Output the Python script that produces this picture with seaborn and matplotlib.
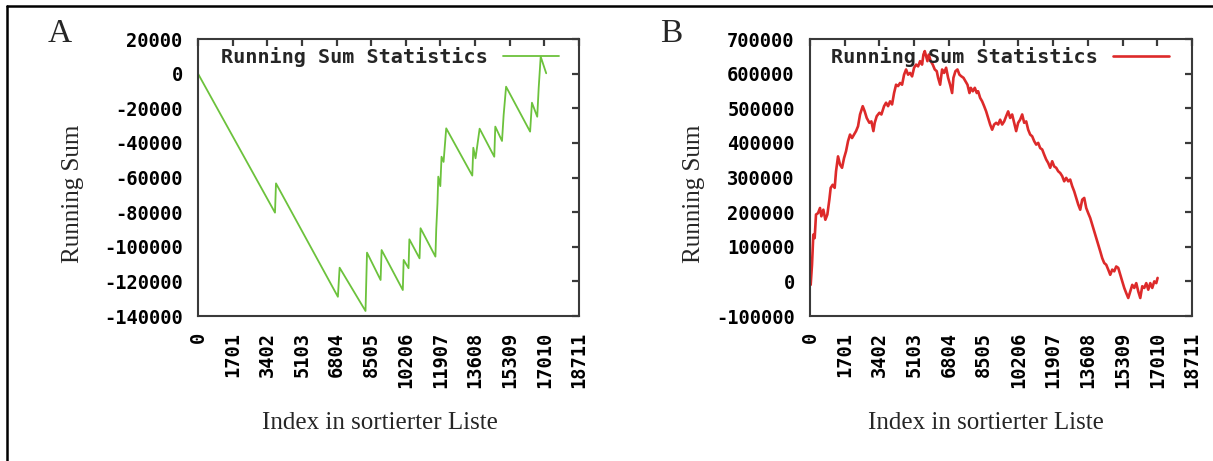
import matplotlib
matplotlib.use("Agg")
import matplotlib.pyplot as plt
import seaborn as sns
from matplotlib.lines import Line2D

# ---------------- data ----------------
x_ticks = [0, 1701, 3402, 5103, 6804, 8505, 10206, 11907, 13608, 15309, 17010, 18711]
ya_ticks = [-140000, -120000, -100000, -80000, -60000, -40000, -20000, 0, 20000]
yb_ticks = [-100000, 0, 100000, 200000, 300000, 400000, 500000, 600000, 700000]

series_label = "Running Sum Statistics"

# Panel A: running sum (sawtooth)
xa = [0, 3781, 3830, 6870, 6955, 8226, 8300, 8967, 9017, 10058, 10100, 10340, 10380,
      10880, 10930, 11660, 11700, 11760, 11800, 11900, 11960, 12060, 12190, 13470,
      13520, 13630, 13830, 14550, 14600, 14930, 15010, 15130, 16310, 16400, 16660,
      16730, 16830, 17100]
ya = [0, -80300, -63400, -128900, -112100, -137100, -103400, -119200, -101900, -125000,
      -107600, -112400, -95700, -106700, -89300, -105700, -89900, -75000, -59500, -65000,
      -48000, -51000, -31600, -58900, -42800, -48900, -31800, -48000, -30600, -38900,
      -23900, -7550, -33500, -16800, -24900, -8500, 9800, 200]

# Panel B: running sum (noisy)
xb = [0, 33, 98, 163, 229, 294, 392, 490, 556, 654, 752, 850, 948, 1013, 1111, 1209,
      1275, 1373, 1471, 1569, 1667, 1765, 1863, 1961, 2059, 2157, 2255, 2353, 2451,
      2582, 2680, 2778, 2908, 3007, 3105, 3170, 3268, 3399, 3497, 3628, 3726, 3824,
      3922, 4020, 4118, 4216, 4314, 4412, 4510, 4608, 4706, 4804, 4902, 5000, 5098,
      5196, 5294, 5392, 5490, 5556, 5621, 5686, 5752, 5817, 5915, 6013, 6111, 6209,
      6275, 6373, 6471, 6569, 6667, 6765, 6863, 6961, 7026, 7124, 7222, 7320, 7418,
      7517, 7615, 7713, 7811, 7876, 7974, 8072, 8170, 8236, 8334, 8432, 8530, 8628,
      8726, 8824, 8922, 9020, 9118, 9216, 9314, 9412, 9510, 9608, 9706, 9804, 9902,
      10000, 10098, 10196, 10294, 10393, 10491, 10589, 10687, 10785, 10883, 10981,
      11079, 11177, 11275, 11373, 11471, 11569, 11667, 11765, 11863, 11961, 12059,
      12157, 12255, 12353, 12451, 12549, 12647, 12745, 12843, 12941, 13040, 13138,
      13236, 13334, 13432, 13530, 13628, 13726, 13824, 13922, 14020, 14118, 14216,
      14314, 14412, 14510, 14608, 14706, 14804, 14902, 15000, 15098, 15197, 15295,
      15393, 15491, 15589, 15687, 15785, 15883, 15981, 16079, 16177, 16275, 16373,
      16471, 16569, 16667, 16765, 16863, 16961, 17026]
yb = [48000, -10000, 48000, 135000, 125000, 193000, 197000, 212000, 188000, 207000,
      178000, 193000, 236000, 270000, 279000, 270000, 318000, 361000, 337000, 328000,
      356000, 376000, 405000, 424000, 414000, 424000, 434000, 448000, 482000, 506000,
      491000, 472000, 458000, 462000, 434000, 458000, 477000, 487000, 482000, 506000,
      516000, 506000, 520000, 511000, 544000, 568000, 564000, 573000, 568000, 597000,
      612000, 597000, 602000, 592000, 617000, 626000, 621000, 636000, 626000, 655000,
      665000, 650000, 636000, 655000, 636000, 626000, 612000, 607000, 588000, 568000,
      612000, 602000, 617000, 588000, 568000, 544000, 588000, 607000, 612000, 597000,
      592000, 588000, 578000, 568000, 544000, 559000, 549000, 559000, 544000, 549000,
      530000, 520000, 506000, 491000, 472000, 453000, 438000, 453000, 458000, 453000,
      467000, 453000, 462000, 477000, 491000, 472000, 482000, 458000, 434000, 458000,
      467000, 482000, 458000, 462000, 438000, 424000, 419000, 405000, 395000, 400000,
      385000, 381000, 366000, 352000, 342000, 328000, 347000, 332000, 328000, 318000,
      313000, 304000, 289000, 299000, 289000, 294000, 275000, 260000, 241000, 222000,
      207000, 236000, 241000, 212000, 197000, 183000, 164000, 145000, 125000, 106000,
      87000, 67000, 53000, 48000, 34000, 19000, 34000, 29000, 43000, 39000, 19000, 0,
      -19000, -34000, -48000, -29000, -10000, -19000, -5000, -29000, -48000, -14000,
      -19000, -5000, -24000, -5000, -19000, 0, -5000, 10000]

# ---------------- style ----------------
sns.set_style("white")
plt.rcParams["font.family"] = ["DejaVu Sans"]
plt.rcParams["axes.unicode_minus"] = False

W, H = 1213, 461
DPI = 100
fig = plt.figure(figsize=(W / DPI, H / DPI), dpi=DPI)

mono = {"family": "DejaVu Sans Mono", "weight": "bold"}
serif = "Liberation Serif"
spine_col = "#3a3a3a"


def px_axes(left, top, right, bottom):
    return [left / W, 1 - bottom / H, (right - left) / W, (bottom - top) / H]


def style_axes(ax, yticks, ylim, anchor_x, ylab_x, xlab_x):
    ax.set_xlim(0, 18711)
    ax.set_ylim(*ylim)
    ax.set_xticks(x_ticks)
    ax.set_xticklabels([str(v) for v in x_ticks], rotation=90, fontdict=mono, fontsize=13.5)
    ax.set_yticks(yticks)
    ax.set_yticklabels([str(v) for v in yticks], fontdict=mono, fontsize=13.5)
    ax.tick_params(axis="both", direction="in", length=5, width=1.6, color=spine_col,
                   top=True, right=True, labelcolor="black")
    ax.tick_params(axis="x", pad=11.5)
    ax.tick_params(axis="y", pad=11)
    for s in ax.spines.values():
        s.set_color(spine_col)
        s.set_linewidth(1.5)
        s.set_visible(True)
    ax.grid(False)
    ax.set_ylabel("Running Sum", fontfamily=serif, fontsize=18)
    ax.yaxis.label.set(ha="center", va="center", rotation_mode="anchor")
    ax.yaxis.set_label_coords(ylab_x, 0.442)
    ax.set_xlabel("Index in sortierter Liste", fontfamily=serif, fontsize=18)
    ax.xaxis.label.set(ha="center", va="center")
    ax.xaxis.set_label_coords(xlab_x, -0.386)
    ax.legend(loc="center right", bbox_to_anchor=(anchor_x, 0.935), frameon=False,
              markerfirst=False, borderpad=0, borderaxespad=0, handlelength=2.8,
              handletextpad=0.72, prop={"family": "DejaVu Sans Mono", "weight": "bold",
                                        "size": 14.5})


# Panel A
axA = fig.add_axes(px_axes(198, 39, 579, 316))
sns.lineplot(x=xa, y=ya, ax=axA, color="#6cc23c", linewidth=1.3, estimator=None,
             sort=False, label=series_label)
style_axes(axA, ya_ticks, (-140000, 20000), 0.9475, -0.329, 0.478)

# Panel B
axB = fig.add_axes(px_axes(810, 39, 1192, 316))
sns.lineplot(x=xb, y=yb, ax=axB, color="#dd2a2a", linewidth=1.9, estimator=None,
             sort=False, label=series_label)
style_axes(axB, yb_ticks, (-100000, 700000), 0.94, -0.304, 0.461)

# Panel letters
fig.text(48 / W, 1 - 42 / H, "A", fontfamily=serif, fontsize=24, ha="left", va="baseline")
fig.text(660 / W, 1 - 42 / H, "B", fontfamily=serif, fontsize=24, ha="left", va="baseline")

# Outer frame (top and left edges)
fig.add_artist(Line2D([7.3 / W, 1.0], [1 - 5.7 / H, 1 - 5.7 / H], color="black",
                      linewidth=1.8, transform=fig.transFigure))
fig.add_artist(Line2D([7.3 / W, 7.3 / W], [0.0, 1 - 5.7 / H], color="black",
                      linewidth=1.8, transform=fig.transFigure))

fig.savefig("out.png", dpi=DPI)
